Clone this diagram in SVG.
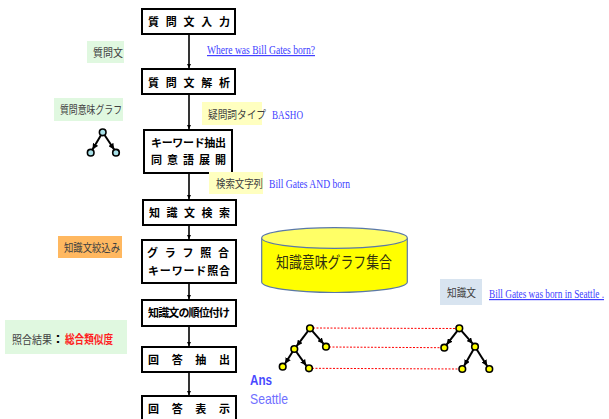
<svg xmlns="http://www.w3.org/2000/svg" width="609" height="419" viewBox="0 0 609 419">
<style>
.box{fill:#fff;stroke:#000;stroke-width:2}
.bt{font-family:"Noto Sans CJK JP","Liberation Sans",sans-serif;font-size:11px;font-weight:bold;fill:#000}
.lbl{font-family:"Noto Sans CJK JP","Liberation Sans",sans-serif;font-size:11px;fill:#404040}
.en{font-family:"Liberation Serif",serif;font-size:12px;fill:#4040ff}
.conn{stroke:#000;stroke-width:1.6;fill:none;marker-end:url(#ah)}
.tedge{stroke:#000;stroke-width:2;fill:none;marker-end:url(#ah2)}
.yn{fill:#ffff00;stroke:#000;stroke-width:1.6}
.cn{fill:#a8e0e8;stroke:#000;stroke-width:1.6}
.dash{stroke:#ff0000;stroke-width:1;stroke-dasharray:2,1.5;fill:none}
</style>
<defs>
<marker id="ah" viewBox="0 0 10 10" refX="10" refY="5" markerWidth="4.5" markerHeight="5" orient="auto" markerUnits="userSpaceOnUse"><path d="M0,0L10,5L0,10z" fill="#000"/></marker>
<marker id="ah2" viewBox="0 0 10 10" refX="10" refY="5" markerWidth="6" markerHeight="6" orient="auto" markerUnits="userSpaceOnUse"><path d="M0,0L10,5L0,10z" fill="#000"/></marker>
</defs>
<rect width="609" height="419" fill="#fff"/>

<g id="connectors">
<line class="conn" x1="189" y1="35" x2="189" y2="68"/>
<line class="conn" x1="189" y1="95" x2="189" y2="129"/>
<line class="conn" x1="189" y1="174" x2="189" y2="199"/>
<line class="conn" x1="189" y1="226" x2="189" y2="239"/>
<line class="conn" x1="189" y1="284" x2="189" y2="299"/>
<line class="conn" x1="189" y1="327" x2="189" y2="346"/>
<line class="conn" x1="189" y1="373" x2="189" y2="395"/>
</g>

<g id="n1"><rect class="box" x="142" y="9" width="93" height="25"/><text class="bt" x="148" y="26" textLength="82" lengthAdjust="spacing">質問文入力</text></g>
<g id="n2"><rect class="box" x="142" y="69" width="93" height="25"/><text class="bt" x="148" y="87" textLength="82" lengthAdjust="spacing">質問文解析</text></g>
<g id="n3"><rect class="box" x="144" y="130" width="88" height="43"/><text class="bt" x="151" y="147" textLength="75" lengthAdjust="spacing">キーワード抽出</text><text class="bt" x="151" y="164" textLength="75" lengthAdjust="spacing">同意語展開</text></g>
<g id="n4"><rect class="box" x="143" y="200" width="93" height="25"/><text class="bt" x="149" y="217" textLength="81" lengthAdjust="spacing">知識文検索</text></g>
<g id="n5"><rect class="box" x="142" y="240" width="94" height="43"/><text class="bt" x="147" y="257" textLength="82" lengthAdjust="spacing">グラフ照合</text><text class="bt" x="148" y="275" textLength="82" lengthAdjust="spacing">キーワード照合</text></g>
<g id="n6"><rect class="box" x="142" y="300" width="94" height="26"/><text class="bt" x="148" y="317" textLength="82" lengthAdjust="spacing">知識文の順位付け</text></g>
<g id="n7"><rect class="box" x="142" y="347" width="94" height="25"/><text class="bt" x="148" y="364" textLength="82" lengthAdjust="spacing">回答抽出</text></g>
<g id="n8"><rect class="box" x="142" y="396" width="94" height="30"/><text class="bt" x="148" y="413" textLength="82" lengthAdjust="spacing">回答表示</text></g>

<g id="l-shitsumonbun"><rect x="87" y="41" width="37" height="22" fill="#e0f8e0"/><text class="lbl" x="93" y="57" textLength="30" lengthAdjust="spacingAndGlyphs">質問文</text></g>
<g id="l-where"><text class="en" x="207" y="54" textLength="108" lengthAdjust="spacingAndGlyphs" text-decoration="underline">Where was Bill Gates born?</text></g>
<g id="l-imigraph"><rect x="54" y="98" width="69" height="23" fill="#e0f8e0"/><text class="lbl" x="60" y="114" textLength="62" lengthAdjust="spacingAndGlyphs">質問意味グラフ</text></g>
<g id="l-gimon"><rect x="202" y="102" width="60" height="23" fill="#ffffc0"/><text class="lbl" x="208" y="119" textLength="58" lengthAdjust="spacingAndGlyphs">疑問詞タイプ</text><text class="en" x="272" y="119" textLength="31" lengthAdjust="spacingAndGlyphs">BASHO</text></g>
<g id="l-kensaku"><rect x="209" y="172" width="54" height="22" fill="#ffffc0"/><text class="lbl" x="216" y="188" textLength="47" lengthAdjust="spacingAndGlyphs">検索文字列</text><text class="en" x="269" y="188" textLength="81" lengthAdjust="spacingAndGlyphs">Bill Gates AND born</text></g>
<g id="l-shibori"><rect x="58" y="236" width="64" height="22" fill="#ffb860"/><text class="lbl" x="64" y="252" textLength="56" lengthAdjust="spacingAndGlyphs">知識文絞込み</text></g>
<g id="l-kekka"><rect x="5" y="320" width="122" height="34" fill="#e0f8e0"/><text class="lbl" x="12" y="344" textLength="40" lengthAdjust="spacingAndGlyphs">照合結果</text><text x="55.5" y="343" font-family="Liberation Sans,Arial,sans-serif" font-size="15" font-weight="bold" fill="#000">:</text><text x="65" y="344" font-family="Noto Sans CJK JP,sans-serif" font-size="12" font-weight="bold" fill="#ff2020" textLength="48" lengthAdjust="spacingAndGlyphs">総合類似度</text></g>

<g id="qgraph">
<line class="tedge" x1="102.7" y1="132.3" x2="92.5" y2="149.5"/>
<line class="tedge" x1="102.7" y1="132.3" x2="114.2" y2="149.5"/>
<circle class="cn" cx="102.7" cy="132.3" r="3.3"/>
<circle class="cn" cx="90.7" cy="152.7" r="3.3"/>
<circle class="cn" cx="116" cy="152.7" r="3.3"/>
</g>

<g id="db">
<path d="M261.7,238 L261.7,282 A72.8,10.5 0 0 0 407.3,282 L407.3,238" fill="#ffff00" stroke="#5a78a8" stroke-width="1.2"/>
<ellipse cx="334.5" cy="238" rx="72.8" ry="10.3" fill="#ffff66" stroke="#5a78a8" stroke-width="1.2"/>
<text x="276" y="268" font-family="Noto Sans CJK JP,sans-serif" font-size="16" fill="#303010" textLength="116" lengthAdjust="spacingAndGlyphs">知識意味グラフ集合</text>
</g>

<g id="l-chishikibun"><rect x="440" y="279" width="42" height="26" fill="#d8e4f0"/><text class="lbl" x="447" y="297" textLength="29" lengthAdjust="spacingAndGlyphs">知識文</text><text class="en" x="489" y="298" textLength="115" lengthAdjust="spacingAndGlyphs" text-decoration="underline">Bill Gates was born in Seattle .</text></g>

<g id="dashes">
<line class="dash" x1="313" y1="328" x2="456" y2="328.5"/>
<line class="dash" x1="329" y1="347" x2="441" y2="347.7"/>
<line class="dash" x1="312" y1="368.3" x2="459" y2="369"/>
</g>

<g id="tree-left">
<line class="tedge" x1="310" y1="328.3" x2="296.6" y2="346.2"/>
<line class="tedge" x1="310" y1="328.3" x2="323.6" y2="343.8"/>
<line class="tedge" x1="294.3" y1="349" x2="285" y2="363.7"/>
<line class="tedge" x1="294.3" y1="349" x2="306.2" y2="365.6"/>
<circle class="yn" cx="310" cy="328.3" r="3.3"/>
<circle class="yn" cx="326" cy="346.7" r="3.3"/>
<circle class="yn" cx="294.3" cy="349" r="3.3"/>
<circle class="yn" cx="282.7" cy="366.7" r="3.3"/>
<circle class="yn" cx="309" cy="368.3" r="3.3"/>
</g>

<g id="tree-right">
<line class="tedge" x1="459.3" y1="328.3" x2="446.6" y2="344.7"/>
<line class="tedge" x1="459.3" y1="328.3" x2="472.7" y2="343.7"/>
<line class="tedge" x1="475" y1="346.7" x2="464.2" y2="365.8"/>
<line class="tedge" x1="475" y1="346.7" x2="487.2" y2="366"/>
<circle class="yn" cx="459.3" cy="328.3" r="3.3"/>
<circle class="yn" cx="444.3" cy="347.7" r="3.3"/>
<circle class="yn" cx="475" cy="346.7" r="3.3"/>
<circle class="yn" cx="462.3" cy="369" r="3.3"/>
<circle class="yn" cx="489.3" cy="369" r="3.3"/>
</g>

<g id="answer">
<text x="250" y="385" font-family="Liberation Sans,Arial,sans-serif" font-size="14" font-weight="bold" fill="#4848ff" textLength="22" lengthAdjust="spacingAndGlyphs">Ans</text>
<text x="250" y="404" font-family="Liberation Sans,Arial,sans-serif" font-size="15" fill="#7070ff" textLength="38" lengthAdjust="spacingAndGlyphs">Seattle</text>
</g>
</svg>
